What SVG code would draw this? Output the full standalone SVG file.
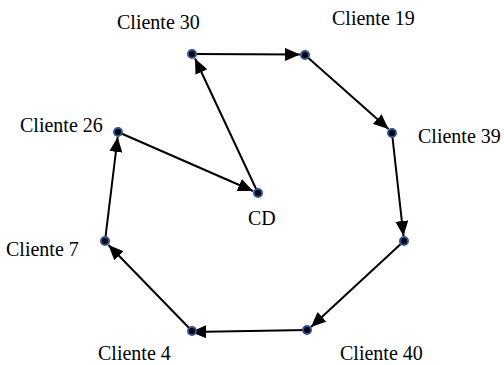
<svg xmlns="http://www.w3.org/2000/svg" width="504" height="365" viewBox="0 0 504 365">
<style>
.lbl{font-family:"Liberation Serif","Times New Roman",serif;font-size:20px;fill:#000}
.edge{stroke:#000;stroke-width:2;fill:none}
.nd{fill:#000;stroke:#2f5597;stroke-width:2}
</style>
<defs>
<marker id="ah" markerWidth="15" markerHeight="13" refX="15" refY="6.5" orient="auto" markerUnits="userSpaceOnUse">
<path d="M0,0 L15,6.5 L0,13 Z" fill="#000"/>
</marker>
</defs>
<rect width="504" height="365" fill="#fff"/>
<g id="connectors">
<line class="edge" x1="192" y1="54" x2="300" y2="54.5" marker-end="url(#ah)"/>
<line class="edge" x1="305" y1="55" x2="388.5" y2="129" marker-end="url(#ah)"/>
<line class="edge" x1="392" y1="133" x2="403.5" y2="236" marker-end="url(#ah)"/>
<line class="edge" x1="404" y1="241" x2="311" y2="327" marker-end="url(#ah)"/>
<line class="edge" x1="307" y1="330" x2="191" y2="332" marker-end="url(#ah)"/>
<line class="edge" x1="192" y1="331" x2="108.5" y2="245" marker-end="url(#ah)"/>
<line class="edge" x1="105" y1="241" x2="117.7" y2="137" marker-end="url(#ah)"/>
<line class="edge" x1="118" y1="132" x2="253" y2="191" marker-end="url(#ah)"/>
<line class="edge" x1="258" y1="193" x2="195" y2="58.5" marker-end="url(#ah)"/>
</g>
<g id="cliente30"><circle class="nd" cx="192" cy="54" r="4"/><text class="lbl" x="117" y="29">Cliente 30</text></g>
<g id="cliente19"><circle class="nd" cx="305" cy="55" r="4"/><text class="lbl" x="332" y="25">Cliente 19</text></g>
<g id="cliente39"><circle class="nd" cx="392" cy="133" r="4"/><text class="lbl" x="418" y="143">Cliente 39</text></g>
<g id="node_r"><circle class="nd" cx="404" cy="241" r="4"/></g>
<g id="cliente40"><circle class="nd" cx="307" cy="330" r="4"/><text class="lbl" x="340" y="360">Cliente 40</text></g>
<g id="cliente4"><circle class="nd" cx="192" cy="331" r="4"/><text class="lbl" x="98" y="360">Cliente 4</text></g>
<g id="cliente7"><circle class="nd" cx="105" cy="241" r="4"/><text class="lbl" x="6" y="256">Cliente 7</text></g>
<g id="cliente26"><circle class="nd" cx="118" cy="132" r="4"/><text class="lbl" x="20" y="132">Cliente 26</text></g>
<g id="cd"><circle class="nd" cx="258" cy="193" r="4"/><text class="lbl" x="248" y="225">CD</text></g>
</svg>
